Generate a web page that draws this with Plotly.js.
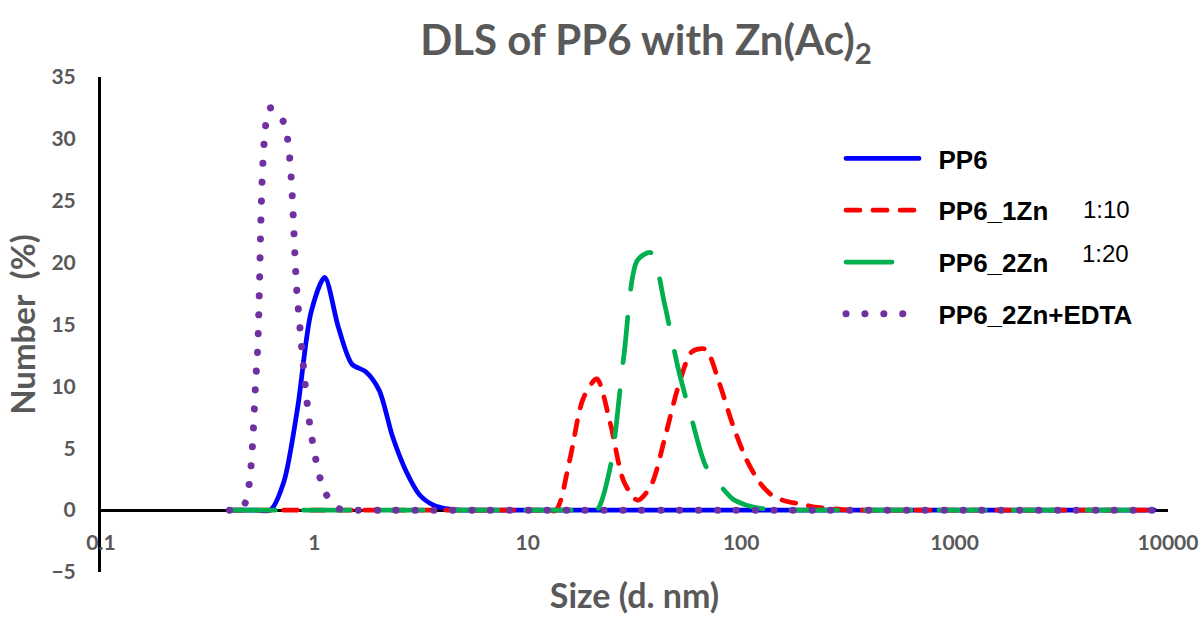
<!DOCTYPE html>
<html>
<head>
<meta charset="utf-8">
<script src="https://cdn.plot.ly/plotly-3.0.1.min.js"></script>
<style>html,body{margin:0;padding:0;background:#fff;}#chart{width:1201px;height:617px;}</style>
</head>
<body>
<div id="chart"></div>
<script>
// Size bins (d. nm)
const sizes = [0.4, 0.4632, 0.5365, 0.6213, 0.7195, 0.8332, 0.9649, 1.117, 1.294, 1.499,
  1.736, 2.01, 2.328, 2.696, 3.122, 3.615, 4.187, 4.849, 5.615, 6.503,
  7.531, 8.721, 10.1, 11.7, 13.54, 15.69, 18.17, 21.04, 24.36, 28.21,
  32.67, 37.84, 43.82, 50.75, 58.77, 68.06, 78.82, 91.28, 105.7, 122.4,
  141.8, 164.2, 190.1, 220.2, 255.0, 295.3, 342.0, 396.1, 458.7, 531.2,
  615.1, 712.4, 825.0, 955.4, 1106, 1281, 1484, 1718, 1990, 2305,
  2669, 3091, 3580, 4145, 4801, 5560, 6439, 7456, 8635];

// Number (%)
const pp6 = [0, 0, 0, 0, 2.3, 8.2, 16.0, 18.8, 14.8, 11.8,
  11.2, 9.7, 5.9, 3.1, 1.2, 0.4, 0.1, 0, 0, 0,
  0, 0, 0, 0, 0, 0, 0, 0, 0, 0,
  0, 0, 0, 0, 0, 0, 0, 0, 0, 0,
  0, 0, 0, 0, 0, 0, 0, 0, 0, 0,
  0, 0, 0, 0, 0, 0, 0, 0, 0, 0,
  0, 0, 0, 0, 0, 0, 0, 0, 0];

const pp6_1zn = [0, 0, 0, 0, 0, 0, 0, 0, 0, 0,
  0, 0, 0, 0, 0, 0, 0, 0, 0, 0,
  0, 0, 0, 0, 0, 4.0, 9.0, 10.6, 7.0, 2.3,
  0.8, 2.0, 5.8, 10.0, 12.8, 13.0, 10.3, 6.9, 4.1, 2.2,
  1.1, 0.7, 0.5, 0.25, 0.15, 0.05, 0, 0, 0, 0,
  0, 0, 0, 0, 0, 0, 0, 0, 0, 0,
  0, 0, 0, 0, 0, 0, 0, 0, 0];

const pp6_2zn = [0, 0, 0, 0, 0, 0, 0, 0, 0, 0,
  0, 0, 0, 0, 0, 0, 0, 0, 0, 0,
  0, 0, 0, 0, 0, 0, 0, 0, 3.5, 12.5,
  20.2, 20.8, 16.6, 11.4, 7.3, 3.6, 2.1, 0.9, 0.4, 0.15,
  0.05, 0, 0, 0, 0, 0, 0, 0, 0, 0,
  0, 0, 0, 0, 0, 0, 0, 0, 0, 0,
  0, 0, 0, 0, 0, 0, 0, 0, 0];

const pp6_2zn_edta = [0, 0.25, 11.7, 32.5, 31.3, 17.0, 6.2, 1.5, 0.15, 0,
  0, 0, 0, 0, 0, 0, 0, 0, 0, 0,
  0, 0, 0, 0, 0, 0, 0, 0, 0, 0,
  0, 0, 0, 0, 0, 0, 0, 0, 0, 0,
  0, 0, 0, 0, 0, 0, 0, 0, 0, 0,
  0, 0, 0, 0, 0, 0, 0, 0, 0, 0,
  0, 0, 0, 0, 0, 0, 0, 0, 0];

const seriesNames = ['PP6', 'PP6_1Zn', 'PP6_2Zn', 'PP6_2Zn+EDTA'];
const xTickVals = [0.1, 1, 10, 100, 1000, 10000];
const xTickText = ['0.1', '1', '10', '100', '1000', '10000'];
const ratioLabels = ['1:10', '1:20'];

const gray = '#595959';
const calibriLike = 'Lato, "Open Sans", sans-serif';
const arialLike = '"Liberation Sans", Arial, sans-serif';

const styles = [
  {color: '#0000FF', width: 4.75, dash: 'solid'},
  {color: '#FF0000', width: 4.75, dash: '14px,13px'},
  {color: '#00B050', width: 4.75, dash: '46px,28px'},
  {color: '#7030A0', width: 7, dash: '0.1px,18.8px'}
];
const ys = [pp6, pp6_1zn, pp6_2zn, pp6_2zn_edta];

const traces = ys.map((y, i) => ({
  type: 'scatter',
  mode: 'lines',
  x: sizes,
  y: y,
  name: '\u00a0\u00a0' + seriesNames[i],
  legendgroup: 'g' + i,
  line: {color: styles[i].color, width: styles[i].width, dash: styles[i].dash, shape: 'spline', smoothing: 0.8},
  hoverinfo: 'x+y+name'
}));

const layout = {
  width: 1201,
  height: 617,
  paper_bgcolor: '#ffffff',
  plot_bgcolor: '#ffffff',
  margin: {l: 101, r: 33, t: 77, b: 45},
  title: {
    text: 'DLS of PP6 with Zn(Ac)<sub>2</sub>',
    font: {family: calibriLike, size: 42, color: gray, weight: 'bold'},
    x: 646 / 1201, xref: 'container', xanchor: 'center',
    y: 1 - 40 / 617, yref: 'container', yanchor: 'middle'
  },
  xaxis: {
    type: 'log',
    range: [-1, 4],
    anchor: 'free',
    position: 0.125,
    showline: true,
    linecolor: '#000000',
    linewidth: 3,
    layer: 'below traces',
    showgrid: false,
    zeroline: false,
    ticks: '',
    tickvals: xTickVals,
    ticktext: xTickText,
    ticklabelstandoff: 13,
    tickfont: {family: calibriLike, size: 21, color: gray, weight: 'bold'},
    title: {
      text: 'Size (d. nm)',
      font: {family: calibriLike, size: 34, color: gray, weight: 'bold'},
      standoff: 30
    }
  },
  yaxis: {
    range: [-5, 35],
    dtick: 5,
    tick0: 0,
    showline: true,
    linecolor: '#000000',
    linewidth: 3,
    layer: 'below traces',
    showgrid: false,
    zeroline: false,
    ticks: '',
    ticklabelstandoff: 18,
    tickfont: {family: calibriLike, size: 21, color: gray, weight: 'bold'},
    title: {
      text: 'Number\u00a0\u00a0(%)',
      font: {family: calibriLike, size: 33, color: gray, weight: 'bold'},
      standoff: 6
    }
  },
  showlegend: true,
  legend: {
    x: (841 - 101) / 1067,
    y: (572 - 135) / 495,
    xanchor: 'left',
    yanchor: 'top',
    bgcolor: 'rgba(0,0,0,0)',
    font: {family: arialLike, size: 26, color: '#000000', weight: 'bold'},
    itemwidth: 73,
    tracegroupgap: 15,
    traceorder: 'grouped'
  },
  annotations: [
    {text: ratioLabels[0], xref: 'paper', yref: 'paper', x: (1106 - 101) / 1067, y: (572 - 209) / 495,
     xanchor: 'center', yanchor: 'middle', showarrow: false,
     font: {family: arialLike, size: 24, color: '#000000'}},
    {text: ratioLabels[1], xref: 'paper', yref: 'paper', x: (1105 - 101) / 1067, y: (572 - 254) / 495,
     xanchor: 'center', yanchor: 'middle', showarrow: false,
     font: {family: arialLike, size: 24, color: '#000000'}}
  ]
};

Plotly.newPlot('chart', traces, layout, {displayModeBar: false, staticPlot: true}).then(function (gd) {
  gd.querySelectorAll('.scatterlayer path.js-line, .legend path.js-line').forEach(function (p) {
    p.style.strokeLinecap = 'round';
    p.style.strokeLinejoin = 'round';
  });
});
</script>
</body>
</html>
